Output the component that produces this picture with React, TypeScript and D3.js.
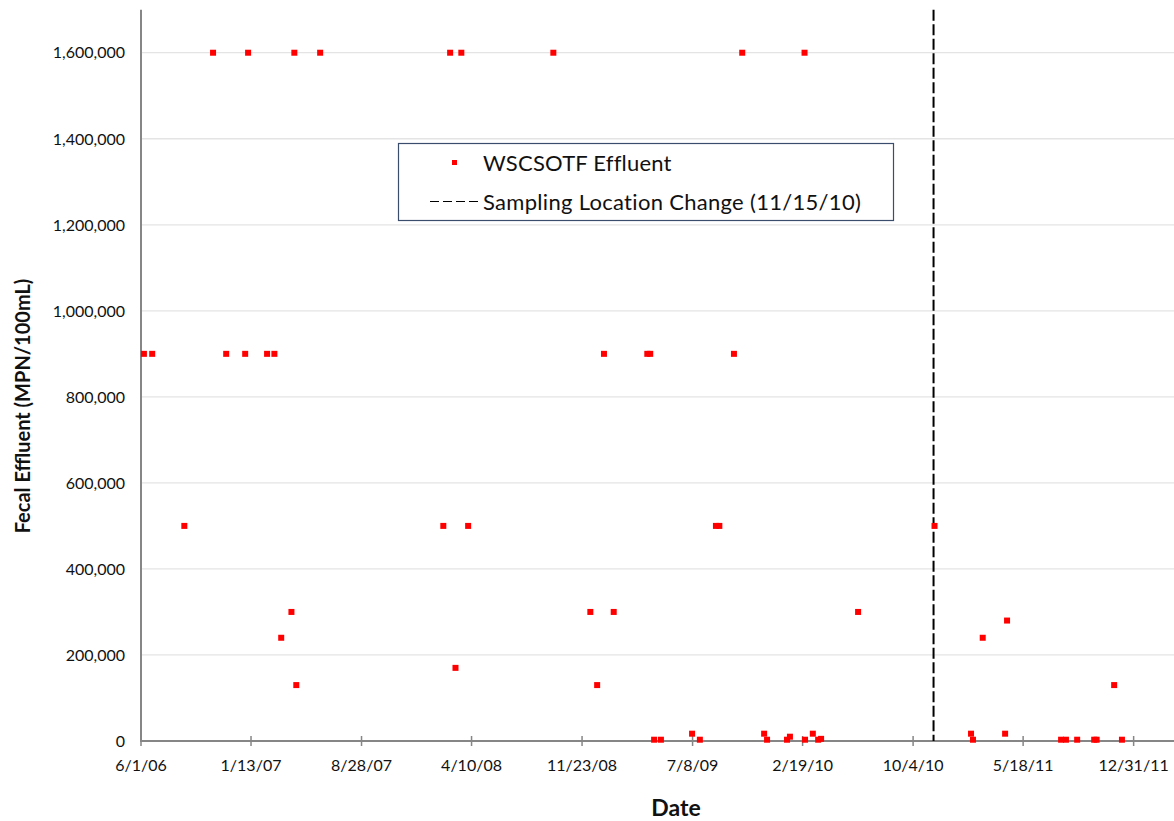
import React from "react";
import * as d3 from "d3";

const sampleDates: string[] = [
  "2006-06-07","2006-06-24","2006-08-29","2006-10-27","2006-11-23","2007-01-01","2007-01-07","2007-02-15",
  "2007-03-02","2007-03-16","2007-04-06","2007-04-12","2007-04-16","2007-06-04","2008-02-12","2008-02-26",
  "2008-03-08","2008-03-20","2008-04-03","2008-09-25","2008-12-10","2008-12-24","2009-01-07","2009-01-27",
  "2009-04-06","2009-04-12","2009-04-20","2009-05-04","2009-07-07","2009-07-23","2009-08-25","2009-09-01",
  "2009-10-01","2009-10-18","2009-12-02","2009-12-08","2010-01-18","2010-01-24","2010-02-24","2010-02-23",
  "2010-03-12","2010-03-23","2010-03-29","2010-06-13","2010-11-17","2011-01-31","2011-02-04","2011-02-24",
  "2011-04-11","2011-04-15","2011-08-04","2011-08-14","2011-09-06","2011-10-11","2011-10-16","2011-11-21",
  "2011-12-07",
];
const effluentValues: number[] = [
  900000,900000,500000,1600000,900000,900000,1600000,900000,
  900000,240000,300000,1600000,130000,1600000,500000,1600000,
  170000,1600000,500000,1600000,300000,130000,900000,300000,
  900000,900000,3000,3000,17000,3000,500000,500000,
  900000,1600000,17000,3000,3000,10000,3000,1600000,
  17000,3000,5000,300000,500000,17000,3000,240000,
  17000,280000,3000,3000,3000,3000,3000,130000,
  3000,
];
const xTickDates: string[] = [
  "2006-06-01","2007-01-13","2007-08-28","2008-04-10","2008-11-23",
  "2009-07-08","2010-02-19","2010-10-04","2011-05-18","2011-12-31",
];
const yTickValues: number[] = [0,200000,400000,600000,800000,1000000,1200000,1400000,1600000];
const xDomain: string[] = ["2006-06-01", "2012-03-26"];
const yDomain: number[] = [0, 1700000];
const locationChangeDate = "2010-11-15";
const seriesName = "WSCSOTF Effluent";
const changeName = "Sampling Location Change (11/15/10)";

const parse = d3.utcParse("%Y-%m-%d");
const fmtDate = d3.utcFormat("%-m/%-d/%y");
const fmtNum = d3.format(",");

export default function App() {
  const W = 1174, H = 821;
  const left = 141, right = 1175.5, top = 9.7, bottom = 741;
  const x = d3.scaleUtc().domain(xDomain.map((d) => parse(d)!)).range([left, right]);
  const y = d3.scaleLinear().domain(yDomain).range([bottom, top]);
  const font = "Lato, 'Open Sans', sans-serif";
  const lx = x(parse(locationChangeDate)!);
  const pts = sampleDates.map((d, i) => ({ d: parse(d)!, v: effluentValues[i] }));
  const ms = 6;

  return (
    <svg width={W} height={H} style={{ position: "absolute", left: 0, top: 0, background: "#fff" }}>
      <rect x={0} y={0} width={W} height={H} fill="#fff" />
      {yTickValues.filter((v) => v > 0).map((v) => (
        <line key={"g" + v} x1={left} x2={W} y1={y(v)} y2={y(v)} stroke="#e4e4e4" strokeWidth={1.3} />
      ))}
      {yTickValues.map((v) => (
        <text key={"yl" + v} x={125} y={y(v)} dy="0.36em" textAnchor="end" fontFamily={font} fontSize={16} fill="#111">
          {fmtNum(v)}
        </text>
      ))}
      <line x1={left} x2={W} y1={bottom} y2={bottom} stroke="#868686" strokeWidth={2} />
      {xTickDates.map((d) => {
        const xx = x(parse(d)!);
        return (
          <g key={"xt" + d}>
            <line x1={xx} x2={xx} y1={bottom - 5} y2={bottom + 5} stroke="#868686" strokeWidth={1.5} />
            <text x={xx} y={771} textAnchor="middle" fontFamily={font} fontSize={16} fill="#111">
              {fmtDate(parse(d)!)}
            </text>
          </g>
        );
      })}
      <line x1={left} x2={left} y1={top} y2={bottom + 1} stroke="#868686" strokeWidth={2} />
      <line x1={lx} x2={lx} y1={top} y2={bottom} stroke="#000" strokeWidth={2} strokeDasharray="11,3.5" />
      {pts.map((p, i) => (
        <rect key={"p" + i} x={x(p.d) - ms / 2} y={y(p.v) - ms / 2} width={ms} height={ms} fill="#ff0000" />
      ))}
      <rect x={398.5} y={143.5} width={495} height={77} fill="#fff" stroke="#3a4d6c" strokeWidth={1.2} />
      <rect x={452} y={160} width={5} height={5} fill="#ff0000" />
      <text x={483} y={171} fontFamily={font} fontSize={22} letterSpacing={0.2} fill="#111">{seriesName}</text>
      <line x1={430} x2={478} y1={201.5} y2={201.5} stroke="#000" strokeWidth={1.2} strokeDasharray="9,4" />
      <text x={483} y={210} fontFamily={font} fontSize={22} letterSpacing={0.3} fill="#111">{changeName}</text>
      <text x={676} y={816} textAnchor="middle" fontFamily={font} fontSize={23} fontWeight="bold" fill="#111">Date</text>
      <text transform={`translate(30, 406) rotate(-90)`} textAnchor="middle" fontFamily={font} fontSize={20} fontWeight="bold" fill="#111">
        Fecal Effluent (MPN/100mL)
      </text>
    </svg>
  );
}
